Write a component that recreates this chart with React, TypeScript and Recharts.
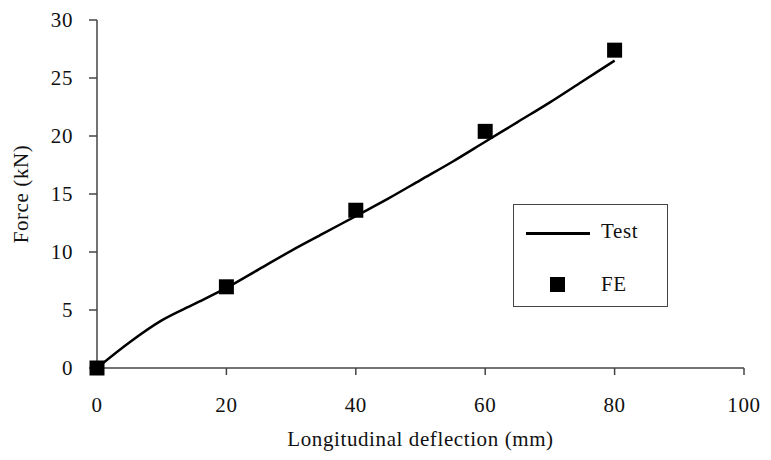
import React from "react";
import {
  ComposedChart,
  Line,
  Scatter,
  XAxis,
  YAxis,
  Legend,
} from "recharts";

const testDeflection = [0, 5, 10, 15, 20, 25, 30, 35, 40, 45, 50, 55, 60, 65, 70, 75, 80];
const testForce = [0, 2.2, 4.1, 5.5, 6.9, 8.5, 10.1, 11.6, 13.1, 14.6, 16.2, 17.8, 19.5, 21.2, 22.9, 24.7, 26.5];

const feDeflection = [0, 20, 40, 60, 80];
const feForce = [0, 7.0, 13.6, 20.4, 27.4];

const xTicks = [0, 20, 40, 60, 80, 100];
const yTicks = [0, 5, 10, 15, 20, 25, 30];

const testData = testDeflection.map((x, i) => ({ x, test: testForce[i] }));
const feData = feDeflection.map((x, i) => ({ x, fe: feForce[i] }));

const font = "'Liberation Serif', 'DejaVu Serif', serif";
const axisColor = "#444";
const textStyle = { fill: "#111", fontSize: 21, fontFamily: font, letterSpacing: 0.6 };

const Square = (props: any) => {
  const { cx, cy } = props;
  if (cx == null || cy == null) return null;
  return <rect x={cx - 7.5} y={cy - 7.5} width={15} height={15} fill="#000" />;
};

const LegendBox = () => (
  <div
    style={{
      width: 155,
      height: 103,
      border: "1.5px solid #444",
      background: "#fff",
      fontFamily: font,
      fontSize: 21,
      letterSpacing: 0.6,
      color: "#111",
      position: "relative",
      boxSizing: "border-box",
    }}
  >
    <div style={{ position: "absolute", left: 12, top: 27, width: 64, height: 3, background: "#000" }} />
    <div style={{ position: "absolute", left: 87, top: 14, lineHeight: "24px" }}>Test</div>
    <div style={{ position: "absolute", left: 36, top: 72, width: 15, height: 15, background: "#000" }} />
    <div style={{ position: "absolute", left: 87, top: 67, lineHeight: "24px" }}>FE</div>
  </div>
);

export default function App() {
  return (
    <div style={{ position: "absolute", left: 0, top: 0, background: "#fff" }}>
      <ComposedChart
        width={771}
        height={460}
        margin={{ top: 20, right: 27, bottom: 0, left: 0 }}
      >
        <XAxis
          dataKey="x"
          type="number"
          domain={[0, 100]}
          ticks={xTicks}
          allowDuplicatedCategory={false}
          height={92}
          tickSize={7}
          tickMargin={22}
          stroke={axisColor}
          strokeWidth={1.5}
          tick={textStyle}
          label={{
            value: "Longitudinal deflection (mm)",
            position: "insideBottom",
            offset: 14,
            ...textStyle,
          }}
        />
        <YAxis
          type="number"
          domain={[0, 30]}
          ticks={yTicks}
          width={97}
          tickSize={8}
          tickMargin={16}
          stroke={axisColor}
          strokeWidth={1.5}
          tick={textStyle}
          label={{
            value: "Force (kN)",
            angle: -90,
            position: "insideLeft",
            offset: 21,
            style: { textAnchor: "middle", fill: "#111", stroke: "none" },
            ...textStyle,
          }}
        />
        <XAxis
          xAxisId="top"
          orientation="top"
          type="number"
          domain={[0, 100]}
          height={0}
          tick={false}
          tickLine={false}
          stroke={axisColor}
          strokeWidth={1.5}
        />
        <YAxis
          yAxisId="right"
          orientation="right"
          type="number"
          domain={[0, 30]}
          width={0}
          tick={false}
          tickLine={false}
          stroke={axisColor}
          strokeWidth={1.5}
        />
        <Legend
          layout="horizontal"
          verticalAlign="middle"
          align="center"
          wrapperStyle={{ position: "absolute", left: 513, top: 204, width: 155 }}
          content={() => <LegendBox />}
        />
        <Line
          data={testData}
          dataKey="test"
          name="Test"
          type="monotone"
          stroke="#000"
          strokeWidth={2.5}
          dot={false}
          activeDot={false}
          isAnimationActive={false}
        />
        <Scatter
          data={feData}
          dataKey="fe"
          name="FE"
          fill="#000"
          shape={<Square />}
          isAnimationActive={false}
        />
      </ComposedChart>
    </div>
  );
}
